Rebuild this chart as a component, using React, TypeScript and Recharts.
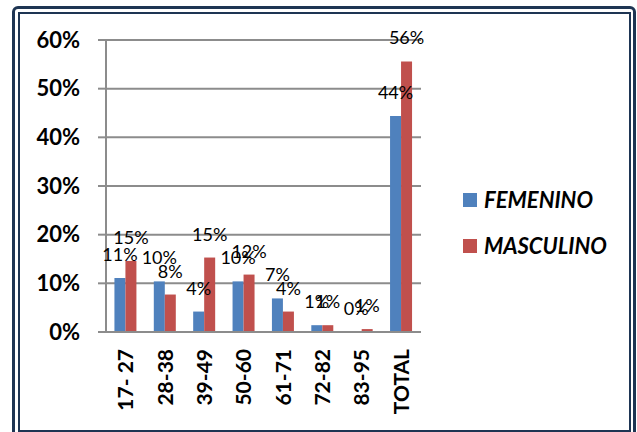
import React from "react";
import { BarChart, Bar, XAxis, YAxis, CartesianGrid, LabelList, Legend } from "recharts";

const categories = ["17- 27", "28-38", "39-49", "50-60", "61-71", "72-82", "83-95", "TOTAL"];
const femenino = [11.1, 10.4, 4.2, 10.4, 6.9, 1.4, 0, 44.4];
const masculino = [14.6, 7.7, 15.3, 11.8, 4.2, 1.4, 0.6, 55.6];
const yTicks = [0, 10, 20, 30, 40, 50, 60];

const data = categories.map((c, i) => ({ cat: c, FEMENINO: femenino[i], MASCULINO: masculino[i] }));

const FONT = "Lato, 'Open Sans', sans-serif";
const GRID = "#8c8c8c";
const NAVY = "#1e3553";

const XTick = (props: any) => {
  const { x, y, payload } = props;
  const yy = y + 9;
  return (
    <text
      x={x}
      y={yy}
      transform={`rotate(-90, ${x}, ${yy})`}
      textAnchor="end"
      dy="0.36em"
      fontFamily={FONT}
      fontWeight={700}
      fontSize={21}
      fill="#000"
    >
      {payload.value}
    </text>
  );
};

const LegendContent = (props: any) => {
  const { payload } = props;
  return (
    <div style={{ fontFamily: FONT, width: 170 }}>
      {payload.map((p: any, i: number) => (
        <div key={i} style={{ display: "flex", alignItems: "center", height: 14, marginBottom: 32 }}>
          <div style={{ width: 14, height: 14, background: p.color, marginRight: 7 }} />
          <span style={{ fontWeight: 700, fontStyle: "italic", fontSize: 22, color: "#000", lineHeight: "14px" }}>
            {p.value}
          </span>
        </div>
      ))}
    </div>
  );
};

const labelFmt = (v: number) => `${Math.round(v)}%`;

export default function App() {
  return (
    <div style={{ position: "absolute", left: 0, top: 0, width: 637, height: 432, background: "#fff", overflow: "hidden" }}>
      <div
        style={{
          position: "absolute",
          left: 12,
          top: 6,
          width: 624,
          height: 440,
          border: `3.5px solid ${NAVY}`,
          borderRadius: 6,
          boxSizing: "border-box",
        }}
      />
      <div
        style={{
          position: "absolute",
          left: 18,
          top: 12,
          width: 613,
          height: 420,
          border: `2px solid ${NAVY}`,
          boxSizing: "border-box",
        }}
      />
      <div style={{ position: "absolute", left: 0, top: 0 }}>
        <BarChart
          width={637}
          height={432}
          data={data}
          margin={{ top: 40, right: 216, left: 0, bottom: 0 }}
          barCategoryGap="21.4%"
          barGap={0}
        >
          <CartesianGrid vertical={false} stroke={GRID} strokeWidth={2} />
          <XAxis
            dataKey="cat"
            height={100}
            tickLine={false}
            axisLine={{ stroke: GRID, strokeWidth: 2 }}
            tick={<XTick />}
            interval={0}
          />
          <YAxis
            width={106}
            domain={[0, 60]}
            ticks={yTicks}
            tickFormatter={(v: number) => `${v}%`}
            tickSize={8}
            tickMargin={18}
            tickLine={{ stroke: GRID, strokeWidth: 2 }}
            axisLine={{ stroke: GRID, strokeWidth: 2 }}
            tick={{ fontFamily: FONT, fontWeight: 700, fontSize: 22, fill: "#000" }}
          />
          <Legend
            layout="vertical"
            align="right"
            verticalAlign="middle"
            content={<LegendContent />}
            wrapperStyle={{ position: "absolute", left: 463, top: 193, width: 0, height: 0, overflow: "visible" }}
          />
          <Bar dataKey="FEMENINO" fill="#4F81BD" isAnimationActive={false} minPointSize={0.01}>
            <LabelList
              dataKey="FEMENINO"
              position="top"
              offset={17}
              formatter={labelFmt}
              style={{ fontFamily: FONT, fontSize: 18, fill: "#000" }}
            />
          </Bar>
          <Bar dataKey="MASCULINO" fill="#C0504D" isAnimationActive={false}>
            <LabelList
              dataKey="MASCULINO"
              position="top"
              offset={17}
              formatter={labelFmt}
              style={{ fontFamily: FONT, fontSize: 18, fill: "#000" }}
            />
          </Bar>
        </BarChart>
      </div>
    </div>
  );
}
